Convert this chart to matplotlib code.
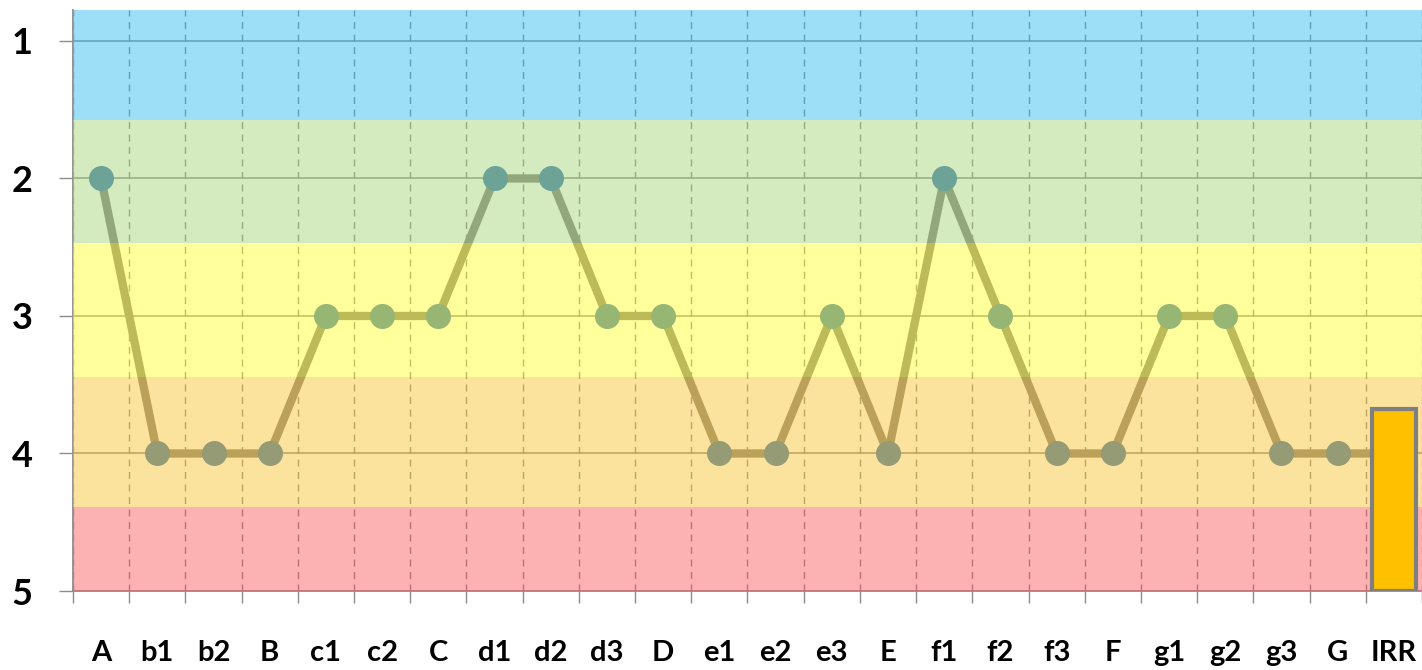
import matplotlib.pyplot as plt
import numpy as np

# categories and scores
categories = ["A", "b1", "b2", "B", "c1", "c2", "C", "d1", "d2", "d3", "D",
              "e1", "e2", "e3", "E", "f1", "f2", "f3", "F", "g1", "g2", "g3", "G", "IRR"]
scores = [2, 4, 4, 4, 3, 3, 3, 2, 2, 3, 3, 4, 4, 3, 4, 2, 3, 4, 4, 3, 3, 4, 4, 4]
irr_value = 3.68

# background bands (edges in score units) and their colours
band_edges = [0.775, 1.575, 2.47, 3.445, 4.39, 5.0]
band_colors = ["#3DC1F1", "#ABD781", "#FFFF39", "#FBC93D", "#FB6569"]

plt.rcParams['font.family'] = ['Lato', 'DejaVu Sans']

fig = plt.figure(figsize=(14.22, 6.70), dpi=100)
ax = fig.add_axes([73 / 1422, 1 - 591 / 670, 1 - 73 / 1422, (591 - 10) / 670])

x = np.arange(len(categories))

# line with markers (drawn under the translucent bands)
ax.plot(x, scores, color="#7B7777", lw=6, zorder=2,
        marker="o", markersize=17, markerfacecolor="#2F6DAF",
        markeredgecolor="#2F6DAF")

# translucent bands on top
for i, c in enumerate(band_colors):
    ax.axhspan(band_edges[i], band_edges[i + 1], color=c, alpha=0.5,
               lw=0, zorder=2.6)

# IRR bar
ax.bar(x[-1], 5 - irr_value, bottom=irr_value, width=0.78, color="#FFC000",
       edgecolor="#7F7F7F", lw=3, zorder=3)

ax.set_xlim(-0.5, len(categories) - 0.5)
ax.set_ylim(5, band_edges[0])

# ticks
ax.set_yticks([1, 2, 3, 4, 5])
ax.set_xticks(x)
ax.set_xticklabels(categories, fontsize=21, fontweight="bold")
ax.set_xticks(np.arange(-0.5, len(categories)), minor=True)
ax.tick_params(axis="x", which="major", length=0, pad=35)
ax.tick_params(axis="x", which="minor", length=8.6, width=1, color="#8C8C8C")
ax.tick_params(axis="y", length=10, width=1, color="#8C8C8C", pad=19)
for lab in ax.get_yticklabels():
    lab.set_fontsize(26)
    lab.set_fontweight("bold")

# grid
ax.grid(axis="y", which="major", color="#7F7F7F", lw=1.1, zorder=1)
ax.grid(axis="x", which="minor", color="#7F7F7F", lw=1, ls=(0, (5, 4)), zorder=1)
ax.set_axisbelow(True)

for s in ["top", "right"]:
    ax.spines[s].set_visible(False)
for s in ["left", "bottom"]:
    ax.spines[s].set_color("#8C8C8C")
    ax.spines[s].set_linewidth(1.3)

fig.savefig("out.png", dpi=100)
